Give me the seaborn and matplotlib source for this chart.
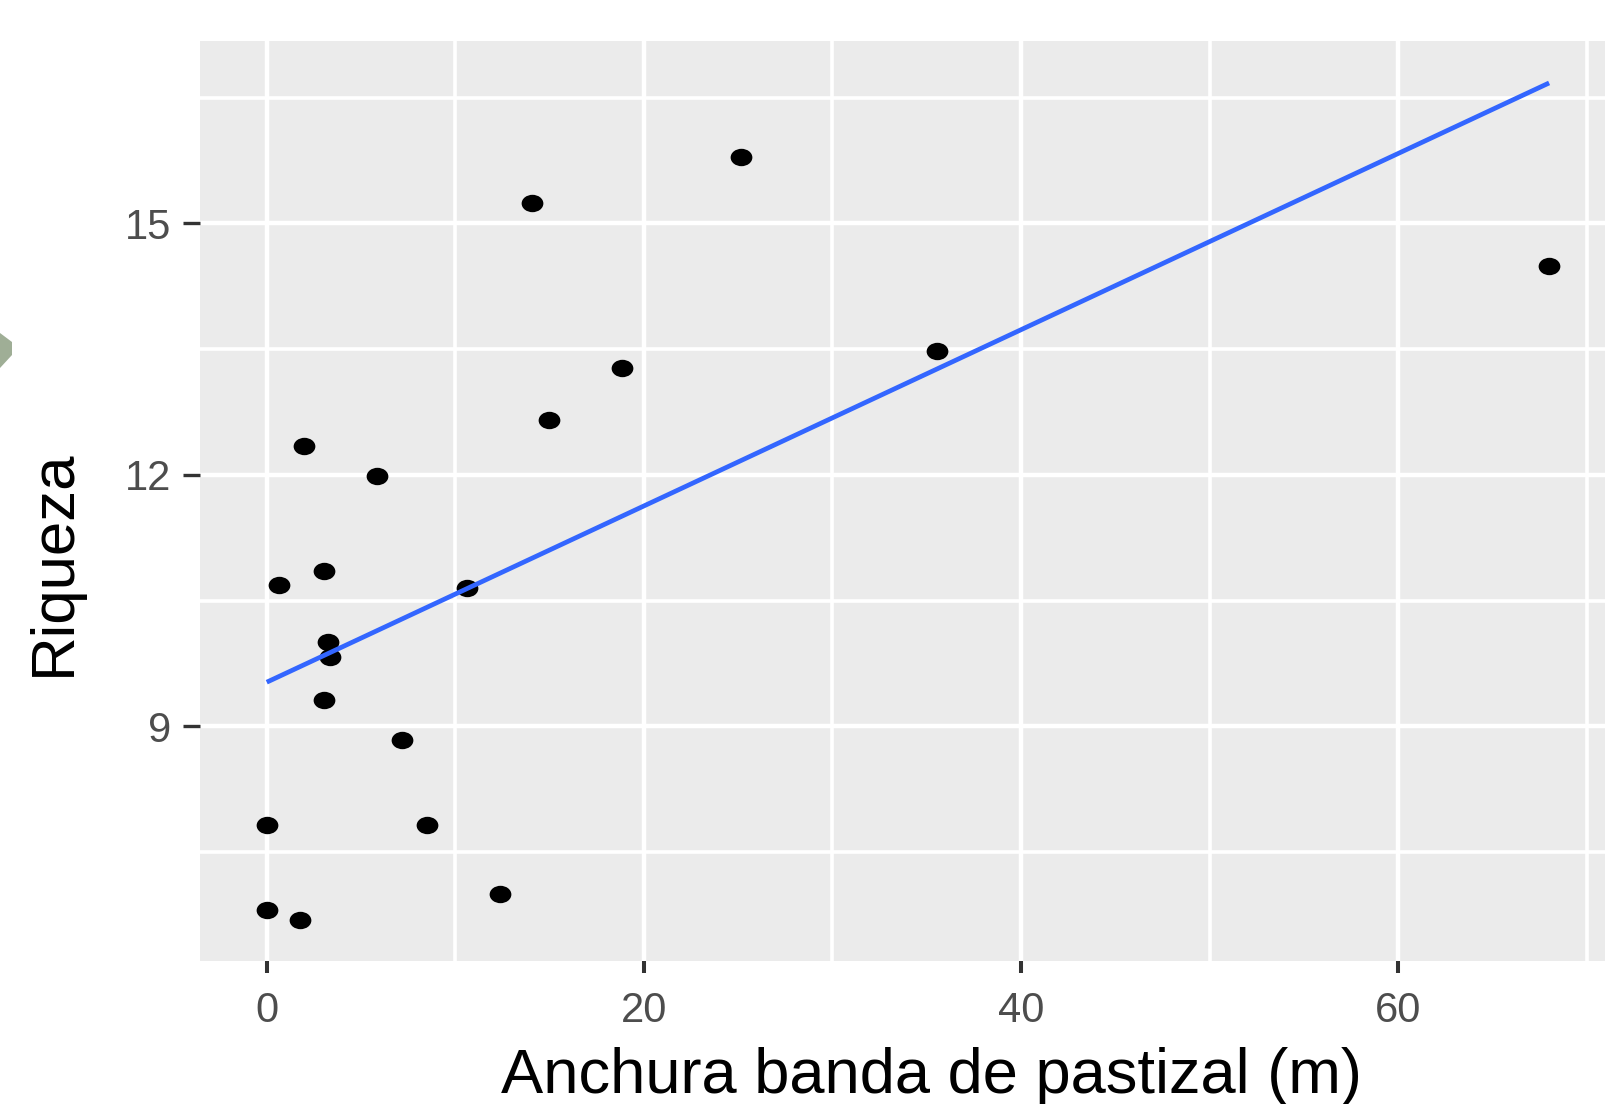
import matplotlib
matplotlib.use("Agg")
import matplotlib.pyplot as plt
import numpy as np
import pandas as pd
import seaborn as sns
from matplotlib.path import Path
from matplotlib.patches import Polygon
from matplotlib.ticker import FixedLocator

# Grassland strip width (m) and species richness per site
anchura = [1.99, 5.87, 3.04, 0.67, 10.60, 3.27, 3.36, 3.04, 7.16, 0.00,
           8.49, 0.00, 1.77, 12.37, 25.14, 14.09, 18.86, 14.97, 35.53, 68.01]
riqueza = [12.34, 11.98, 10.85, 10.69, 10.65, 10.00, 9.83, 9.31, 8.84, 7.82,
           7.82, 6.81, 6.69, 7.00, 15.79, 15.24, 13.28, 12.65, 13.48, 14.49]

x_ticks = [0, 20, 40, 60]
y_ticks = [9, 12, 15]
x_minor = [10, 30, 50, 70]
y_minor = [7.5, 10.5, 13.5, 16.5]

df = pd.DataFrame({"Anchura": anchura, "Riqueza": riqueza})

sns.set_style("darkgrid", {"axes.facecolor": "#EBEBEB", "grid.color": "white"})
plt.rcParams["font.family"] = ["Liberation Sans", "DejaVu Sans"]

W, H = 1605, 1104
fig = plt.figure(figsize=(W / 100, H / 100), dpi=100)
ax = fig.add_axes([200 / W, (H - 961) / H, (1610 - 200) / W, (961 - 41) / H])

# slightly flattened dot marker
circ = Path.unit_circle()
dot = Path(circ.vertices * np.array([1.0, 0.8]), circ.codes)

sns.regplot(data=df, x="Anchura", y="Riqueza", ci=None, ax=ax, marker=dot,
            scatter_kws=dict(s=245, color="black", alpha=1, linewidths=0, zorder=3),
            line_kws=dict(color="#3366FF", lw=3.4, zorder=4,
                          solid_capstyle="butt"))

ax.set_xlim(-3.54, 71.24)
ax.set_ylim(6.20, 17.175)
ax.xaxis.set_major_locator(FixedLocator(x_ticks))
ax.yaxis.set_major_locator(FixedLocator(y_ticks))
ax.xaxis.set_minor_locator(FixedLocator(x_minor))
ax.yaxis.set_minor_locator(FixedLocator(y_minor))

ax.grid(which="major", color="white", lw=3.2)
ax.grid(which="minor", color="white", lw=2.6)
ax.set_axisbelow(True)
for s in ax.spines.values():
    s.set_visible(False)

ax.tick_params(which="minor", length=0, bottom=False, left=False)
ax.tick_params(axis="x", which="major", bottom=True, length=8.6, width=2.9,
               color="#333333", pad=13, labelsize=30, labelcolor="#4D4D4D")
ax.tick_params(axis="y", which="major", left=True, length=12.2, width=2.4,
               color="#333333", pad=8.6, labelsize=30, labelcolor="#4D4D4D")

ax.set_xlabel("")
ax.set_ylabel("")

fig.text(931.5 / W, 11 / H, "Anchura banda de pastizal (m)", ha="center",
         va="baseline", fontsize=45.5, color="black")
fig.text(26 / W, 541 / H, "Riqueza", rotation=90, ha="left", va="center",
         fontsize=44.5, color="black")

# small grey-green shape on the left margin
shape = [(0, 333), (12, 342), (12, 355), (0, 368)]
fig.patches.append(Polygon([(x / W, 1 - y / H) for x, y in shape], closed=True,
                           transform=fig.transFigure, facecolor="#9FAE96",
                           edgecolor="none"))

fig.savefig("out.png", dpi=100)
